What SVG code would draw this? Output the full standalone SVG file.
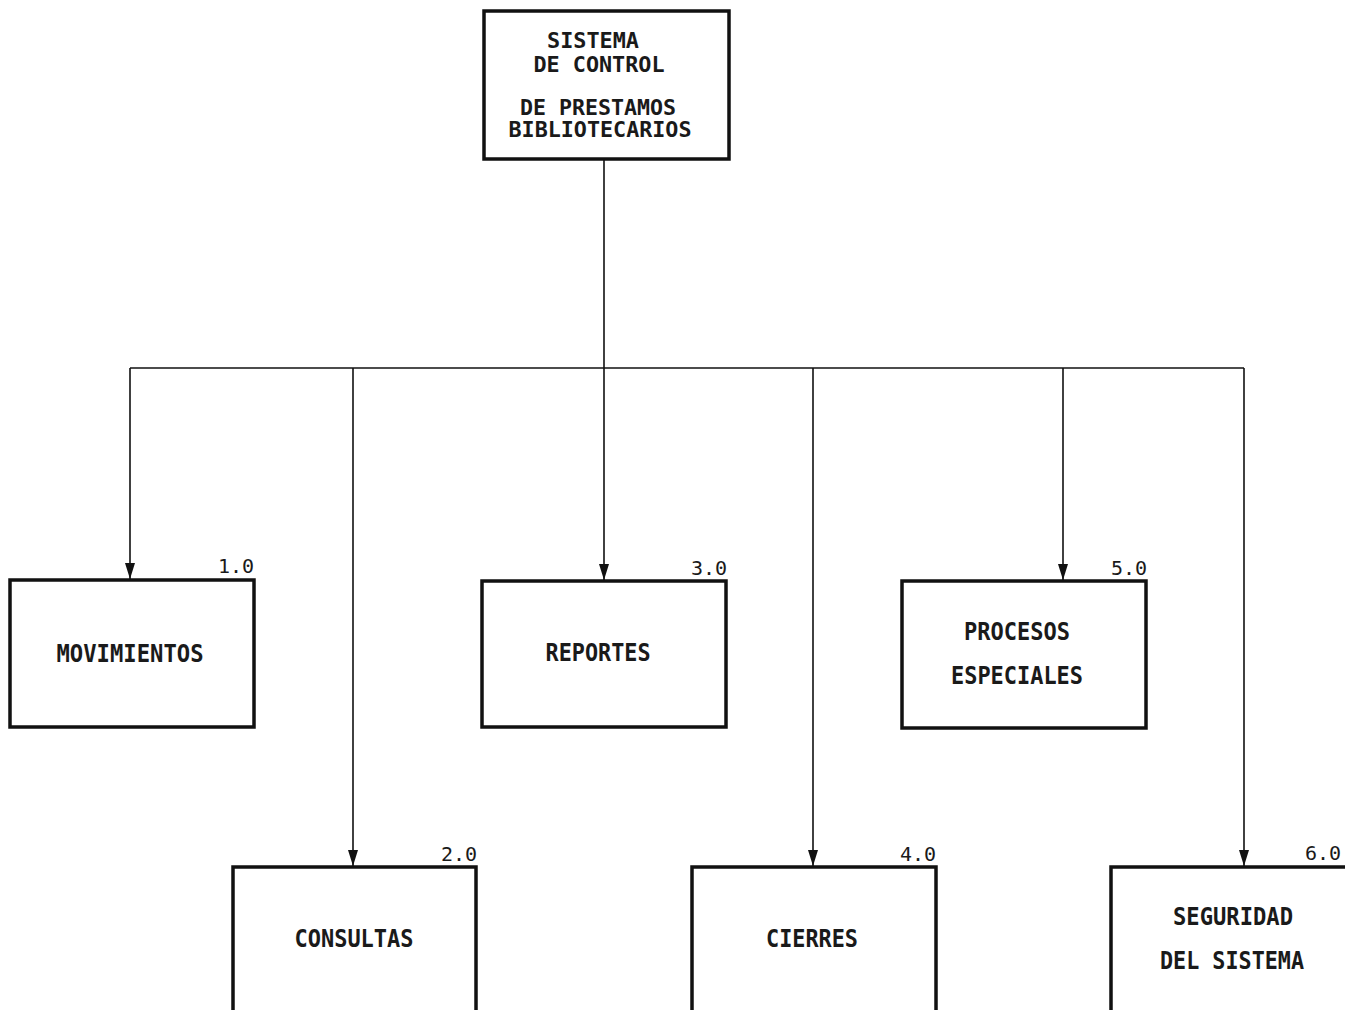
<svg xmlns="http://www.w3.org/2000/svg" width="1345" height="1010" viewBox="0 0 1345 1010">
<style>
.box{fill:#fff;stroke:#111;stroke-width:3.5}
.lbl{font-family:"DejaVu Sans Mono","Liberation Mono",monospace;font-size:24px;font-weight:bold;fill:#1a1a1a;text-anchor:middle}
.top{font-size:21px}
.num{font-family:"DejaVu Sans Mono","Liberation Mono",monospace;font-size:20px;fill:#1a1a1a;text-anchor:end}
.ln{fill:none;stroke:#111;stroke-width:1.6}
</style>
<defs>
<marker id="arr" viewBox="0 0 16 10" refX="16" refY="5" markerWidth="16" markerHeight="10" markerUnits="userSpaceOnUse" orient="auto">
<path d="M0,0 L16,5 L0,10 Z" fill="#111"/>
</marker>
</defs>
<rect width="1345" height="1010" fill="#fff"/>
<g id="connectors">
<path class="ln" d="M604,159 V368"/>
<path class="ln" d="M130,368 H1244"/>
<path class="ln" d="M130,368 V579" marker-end="url(#arr)"/>
<path class="ln" d="M353,368 V866" marker-end="url(#arr)"/>
<path class="ln" d="M604,368 V580" marker-end="url(#arr)"/>
<path class="ln" d="M813,368 V866" marker-end="url(#arr)"/>
<path class="ln" d="M1063,368 V580" marker-end="url(#arr)"/>
<path class="ln" d="M1244,368 V866" marker-end="url(#arr)"/>
</g>
<g id="node-root">
<rect class="box" x="484" y="11" width="245" height="148"/>
<text class="lbl top" x="593" y="48" textLength="92" lengthAdjust="spacingAndGlyphs">SISTEMA</text>
<text class="lbl top" x="599" y="72" textLength="131" lengthAdjust="spacingAndGlyphs">DE CONTROL</text>
<text class="lbl top" x="598" y="115" textLength="156" lengthAdjust="spacingAndGlyphs">DE PRESTAMOS</text>
<text class="lbl top" x="600" y="137" textLength="183" lengthAdjust="spacingAndGlyphs">BIBLIOTECARIOS</text>
</g>
<g id="node-1">
<rect class="box" x="10" y="580" width="244" height="147"/>
<text class="num" x="254" y="573">1.0</text>
<text class="lbl" x="130" y="662" textLength="147" lengthAdjust="spacingAndGlyphs">MOVIMIENTOS</text>
</g>
<g id="node-2">
<rect class="box" x="233" y="867" width="243" height="150"/>
<text class="num" x="477" y="861">2.0</text>
<text class="lbl" x="354" y="947" textLength="119" lengthAdjust="spacingAndGlyphs">CONSULTAS</text>
</g>
<g id="node-3">
<rect class="box" x="482" y="581" width="244" height="146"/>
<text class="num" x="727" y="575">3.0</text>
<text class="lbl" x="598" y="661" textLength="105" lengthAdjust="spacingAndGlyphs">REPORTES</text>
</g>
<g id="node-4">
<rect class="box" x="692" y="867" width="244" height="150"/>
<text class="num" x="936" y="861">4.0</text>
<text class="lbl" x="812" y="947" textLength="92" lengthAdjust="spacingAndGlyphs">CIERRES</text>
</g>
<g id="node-5">
<rect class="box" x="902" y="581" width="244" height="147"/>
<text class="num" x="1147" y="575">5.0</text>
<text class="lbl" x="1017" y="640" textLength="106" lengthAdjust="spacingAndGlyphs">PROCESOS</text>
<text class="lbl" x="1017" y="684" textLength="132" lengthAdjust="spacingAndGlyphs">ESPECIALES</text>
</g>
<g id="node-6">
<rect class="box" x="1111" y="867" width="245" height="150"/>
<text class="num" x="1341" y="860">6.0</text>
<text class="lbl" x="1233" y="925" textLength="120" lengthAdjust="spacingAndGlyphs">SEGURIDAD</text>
<text class="lbl" x="1232" y="969" textLength="144" lengthAdjust="spacingAndGlyphs">DEL SISTEMA</text>
</g>
</svg>
